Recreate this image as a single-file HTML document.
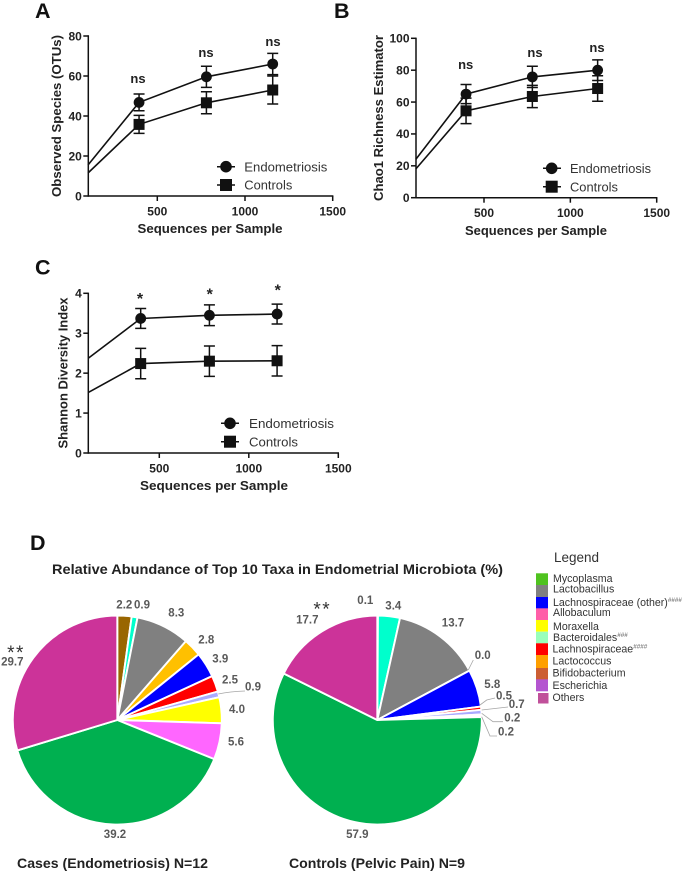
<!DOCTYPE html>
<html lang="en">
<head>
<meta charset="utf-8">
<title>Endometrial microbiota diversity</title>
<style>
html,body{margin:0;padding:0;background:#fff;}
svg{display:block;filter:blur(0.35px);}
text{font-family:"Liberation Sans",sans-serif;}
.letter{font-size:21.5px;font-weight:bold;fill:#111;}
.axis-title{font-size:13px;font-weight:bold;fill:#222;}
.tick{font-size:12px;font-weight:bold;fill:#222;}
.sig{font-size:13px;font-weight:bold;fill:#222;}
.star{font-size:16px;font-weight:bold;fill:#222;}
.leg{font-size:13px;fill:#333;}
.pie-label{font-size:11.5px;font-weight:bold;fill:#595959;text-anchor:middle;dominant-baseline:central;}
.pie-title{font-size:14px;font-weight:bold;fill:#222;}
.tax{font-size:10.6px;fill:#333;dominant-baseline:central;}
.sup{font-size:6.3px;fill:#555;}
.leader{fill:none;stroke:#a6a6a6;stroke-width:0.8;}
</style>
</head>
<body>
<svg id="figure" xmlns="http://www.w3.org/2000/svg" width="685" height="872" viewBox="0 0 685 872">
  <rect x="0" y="0" width="685" height="872" fill="#fff"/>

  <text class="letter" x="35" y="18">A</text>
  <text class="letter" x="334" y="18">B</text>
  <text class="letter" x="35" y="274.500">C</text>
  <text class="letter" x="30" y="550">D</text>

  <g id="chart-a"></g>
  <g id="chart-b"></g>
  <g id="chart-c"></g>

  <text class="axis-title" x="210" y="233" text-anchor="middle" textLength="145" lengthAdjust="spacingAndGlyphs">Sequences per Sample</text>
  <text class="axis-title" x="536" y="235" text-anchor="middle" textLength="142" lengthAdjust="spacingAndGlyphs">Sequences per Sample</text>
  <text class="axis-title" x="214" y="490" text-anchor="middle" textLength="148" lengthAdjust="spacingAndGlyphs">Sequences per Sample</text>
  <text class="axis-title" transform="translate(61 116) rotate(-90)" text-anchor="middle" textLength="162" lengthAdjust="spacingAndGlyphs">Observed Species (OTUs)</text>
  <text class="axis-title" transform="translate(383 118) rotate(-90)" text-anchor="middle" textLength="166" lengthAdjust="spacingAndGlyphs">Chao1 Richness Estimator</text>
  <text class="axis-title" transform="translate(67.500 373) rotate(-90)" text-anchor="middle" textLength="151" lengthAdjust="spacingAndGlyphs">Shannon Diversity Index</text>

  <text class="sig" x="138" y="83" text-anchor="middle">ns</text>
  <text class="sig" x="206" y="57" text-anchor="middle">ns</text>
  <text class="sig" x="273" y="46" text-anchor="middle">ns</text>
  <text class="sig" x="465.700" y="69" text-anchor="middle">ns</text>
  <text class="sig" x="535" y="57" text-anchor="middle">ns</text>
  <text class="sig" x="597" y="52" text-anchor="middle">ns</text>
  <text class="star" x="140" y="304" text-anchor="middle">*</text>
  <text class="star" x="209.700" y="299.700" text-anchor="middle">*</text>
  <text class="star" x="277.700" y="295.700" text-anchor="middle">*</text>

  <g stroke="#111" fill="#111">
    <line x1="217" x2="235" y1="166.700" y2="166.700" stroke-width="1.500"/><circle cx="226" cy="166.700" r="5.300"/>
    <line x1="217" x2="235" y1="185" y2="185" stroke-width="1.500"/><rect x="220.500" y="179.500" width="11" height="11"/>
    <text class="leg" stroke="none" fill="#333" x="244.300" y="171.500" textLength="83" lengthAdjust="spacingAndGlyphs">Endometriosis</text>
    <text class="leg" stroke="none" fill="#333" x="244.300" y="189.700" textLength="48" lengthAdjust="spacingAndGlyphs">Controls</text>
  </g>
  <g stroke="#111" fill="#111">
    <line x1="543" x2="561" y1="168.300" y2="168.300" stroke-width="1.500"/><circle cx="551.700" cy="168.300" r="5.300"/>
    <line x1="543" x2="561" y1="186.700" y2="186.700" stroke-width="1.500"/><rect x="546.200" y="181.200" width="11" height="11"/>
    <text class="leg" stroke="none" fill="#333" x="570" y="173" textLength="81" lengthAdjust="spacingAndGlyphs">Endometriosis</text>
    <text class="leg" stroke="none" fill="#333" x="570" y="191.300" textLength="48" lengthAdjust="spacingAndGlyphs">Controls</text>
  </g>
  <g stroke="#111" fill="#111">
    <line x1="221" x2="239" y1="423.300" y2="423.300" stroke-width="1.500"/><circle cx="230" cy="423.300" r="5.300"/>
    <line x1="221" x2="239" y1="441.700" y2="441.700" stroke-width="1.500"/><rect x="224.500" y="436.200" width="11" height="11"/>
    <text class="leg" stroke="none" fill="#333" x="249" y="428" textLength="85" lengthAdjust="spacingAndGlyphs">Endometriosis</text>
    <text class="leg" stroke="none" fill="#333" x="249" y="446.300" textLength="49" lengthAdjust="spacingAndGlyphs">Controls</text>
  </g>

  <text x="52" y="574" font-size="14" font-weight="bold" fill="#222" textLength="451" lengthAdjust="spacingAndGlyphs">Relative Abundance of Top 10 Taxa in Endometrial Microbiota (%)</text>

  <g id="pie-cases"></g>
  <g id="pie-controls"></g>

  <g>
    <text class="pie-label" x="124.300" y="605.300">2.2</text>
    <text class="pie-label" x="142" y="605.300">0.9</text>
    <text class="pie-label" x="176.300" y="613.300">8.3</text>
    <text class="pie-label" x="206.300" y="640.300">2.8</text>
    <text class="pie-label" x="220.300" y="659.300">3.9</text>
    <text class="pie-label" x="230" y="680.300">2.5</text>
    <text class="pie-label" x="253" y="687.300">0.9</text>
    <text class="pie-label" x="237" y="710">4.0</text>
    <text class="pie-label" x="236" y="742.300">5.6</text>
    <text class="pie-label" x="115" y="835">39.2</text>
    <text class="pie-label" x="12.300" y="662.300">29.7</text>
    <path class="leader" d="M218.300 694 Q230 691.500 245 691"/>
  </g>
  <text x="16" y="659" text-anchor="middle" font-size="19" fill="#333" letter-spacing="1.500">**</text>

  <g>
    <text class="pie-label" x="365.300" y="601">0.1</text>
    <text class="pie-label" x="393.300" y="606.700">3.4</text>
    <text class="pie-label" x="453" y="623.700">13.7</text>
    <text class="pie-label" x="482.700" y="656">0.0</text>
    <text class="pie-label" x="492.300" y="685">5.8</text>
    <text class="pie-label" x="504" y="696.300">0.5</text>
    <text class="pie-label" x="516.700" y="705">0.7</text>
    <text class="pie-label" x="512.300" y="718.300">0.2</text>
    <text class="pie-label" x="506" y="732.700">0.2</text>
    <text class="pie-label" x="357.300" y="835">57.9</text>
    <text class="pie-label" x="307.300" y="620.700">17.7</text>
    <path class="leader" d="M468.300 670 L473.300 660"/>
    <path class="leader" d="M480 705 L486.700 700 L495 698"/>
    <path class="leader" d="M481.700 710 L508 707"/>
    <path class="leader" d="M481.700 713.300 L493 721.700 L503 721.700"/>
    <path class="leader" d="M481.700 716.700 L490 736 L497 736"/>
  </g>
  <text x="322.300" y="615.700" text-anchor="middle" font-size="19" fill="#333" letter-spacing="1.500">**</text>

  <text class="pie-title" x="17" y="868" textLength="191" lengthAdjust="spacingAndGlyphs">Cases (Endometriosis) N=12</text>
  <text class="pie-title" x="289" y="868" textLength="176" lengthAdjust="spacingAndGlyphs">Controls (Pelvic Pain) N=9</text>

  <g>
    <text x="554" y="562" font-size="13.500" fill="#333">Legend</text>
    <rect x="536" y="573.300" width="12" height="12" fill="#4fc31f"/>
    <rect x="536" y="585" width="12" height="12" fill="#808080"/>
    <rect x="536" y="597" width="12" height="11.500" fill="#0000ff"/>
    <rect x="536" y="608.300" width="12" height="11.700" fill="#ff5fa8"/>
    <rect x="536" y="620" width="12" height="11.700" fill="#ffff00"/>
    <rect x="536" y="631.700" width="12" height="11.700" fill="#99ffbb"/>
    <rect x="536" y="643.300" width="12" height="11.700" fill="#ff0000"/>
    <rect x="536" y="655" width="12" height="13" fill="#ff9f00"/>
    <rect x="536" y="668" width="12" height="11.500" fill="#cc5e33"/>
    <rect x="536" y="679.300" width="12" height="12" fill="#b455d0"/>
    <rect x="538" y="693" width="10.500" height="10.500" fill="#c0509a"/>
    <text class="tax" x="553" y="579">Mycoplasma</text>
    <text class="tax" x="553" y="589.500">Lactobacillus</text>
    <text class="tax" x="553" y="603">Lachnospiraceae (other)<tspan class="sup" dy="-3">####</tspan></text>
    <text class="tax" x="553" y="613">Allobaculum</text>
    <text class="tax" x="553" y="627">Moraxella</text>
    <text class="tax" x="553" y="638">Bacteroidales<tspan class="sup" dy="-3">###</tspan></text>
    <text class="tax" x="552.500" y="649.500">Lachnospiraceae<tspan class="sup" dy="-3">####</tspan></text>
    <text class="tax" x="552.500" y="661.500">Lactococcus</text>
    <text class="tax" x="552.500" y="673.500">Bifidobacterium</text>
    <text class="tax" x="552.500" y="686">Escherichia</text>
    <text class="tax" x="552.500" y="698">Others</text>
  </g>
</svg>

<script>
var depths = [105, 396, 780, 1158];
var xTicks = [500, 1000, 1500];

var speciesEndo = [15.5, 46.8, 59.6, 66];
var speciesEndoErr = [0, 4.2, 5.3, 5.3];
var speciesCtrl = [11.5, 35.8, 46.6, 53];
var speciesCtrlErr = [0, 4.5, 5.5, 7];
var speciesTicks = [0, 20, 40, 60, 80];

var chaoEndo = [24, 65, 75.8, 80];
var chaoEndoErr = [0, 6, 6.7, 6.5];
var chaoCtrl = [18, 54.5, 63.5, 68.5];
var chaoCtrlErr = [0, 8, 7, 8];
var chaoTicks = [0, 20, 40, 60, 80, 100];

var shannonEndo = [2.38, 3.37, 3.45, 3.48];
var shannonEndoErr = [0, 0.25, 0.26, 0.25];
var shannonCtrl = [1.52, 2.24, 2.3, 2.31];
var shannonCtrlErr = [0, 0.38, 0.38, 0.38];
var shannonTicks = [0, 1, 2, 3, 4];

var taxa = ['bifidobacterium', 'bacteroidales', 'lactobacillus', 'lactococcus', 'lachnospiraceae-other', 'lachnospiraceae', 'escherichia', 'moraxella', 'allobaculum', 'mycoplasma', 'others'];
var casesShare = [2.2, 0.9, 8.3, 2.8, 3.9, 2.5, 0.9, 4.0, 5.6, 39.2, 29.7];
var controlsShare = [0.1, 3.4, 13.7, 0.0, 5.8, 0.5, 0.7, 0.2, 0.2, 57.9, 17.7];
var sliceColors = ['#996600', '#00ffcc', '#808080', '#ffc000', '#0000ff', '#ff0000', '#aaaaff', '#ffff00', '#ff66ff', '#00b050', '#cc3399'];

var SVGNS = 'http://www.w3.org/2000/svg';
function make(parent, tag, attrs) {
  var el = document.createElementNS(SVGNS, tag);
  for (var k in attrs) { el.setAttribute(k, attrs[k]); }
  parent.appendChild(el);
  return el;
}

function drawSeries(g, xs, yScale, values, errors, marker, prefix) {
  var pts = values.map(function (v, i) { return xs(depths[i]).toFixed(1) + ',' + yScale(v).toFixed(1); });
  var line = make(g, 'polyline', {points: pts.join(' '), fill: 'none', stroke: '#111', 'stroke-width': 1.6});
  
  
  values.forEach(function (v, i) {
    if (i === 0) { return; }
    var cx = xs(depths[i]);
    var cy = yScale(v);
    var hi = yScale(v + errors[i]);
    var lo = yScale(v - errors[i]);
    var eb = make(g, 'path', {
      d: 'M' + cx + ' ' + lo + 'V' + hi + 'M' + (cx - 5.5) + ' ' + hi + 'H' + (cx + 5.5) + 'M' + (cx - 5.5) + ' ' + lo + 'H' + (cx + 5.5),
      fill: 'none', stroke: '#111', 'stroke-width': 1.5
    });
    
    
    var m;
    if (marker === 'circle') {
      m = make(g, 'circle', {cx: cx, cy: cy, r: 5.4, fill: '#111'});
    } else {
      m = make(g, 'rect', {x: cx - 5.5, y: cy - 5.5, width: 11, height: 11, fill: '#111'});
    }
    
    
  });
}

function drawChart(id, frame, yTicks, endo, endoErr, ctrl, ctrlErr) {
  var g = document.getElementById(id);
  var yMax = yTicks[yTicks.length - 1];
  var xs = function (v) { return frame.x500 + (v - 500) * (frame.x1500 - frame.x500) / 1000; };
  var ys = function (v) { return frame.y0 + (frame.yTop - frame.y0) * v / yMax; };
  var yAxis = make(g, 'line', {x1: frame.left, x2: frame.left, y1: frame.yTop - 0.7, y2: frame.y0 + 0.7, stroke: '#111', 'stroke-width': 1.5});
  
  
  var xAxis = make(g, 'line', {x1: frame.left, x2: frame.x1500 + 0.7, y1: frame.y0, y2: frame.y0, stroke: '#111', 'stroke-width': 1.5});
  
  
  yTicks.forEach(function (t) {
    var tk = make(g, 'line', {x1: frame.left - 5, x2: frame.left, y1: ys(t), y2: ys(t), stroke: '#111', 'stroke-width': 1.5});
    
    
    var lb = make(g, 'text', {'class': 'tick', x: frame.left - 6.5, y: ys(t) + 4.3, 'text-anchor': 'end'});
    
    
    lb.textContent = String(t);
  });
  xTicks.forEach(function (t) {
    var tk = make(g, 'line', {x1: xs(t), x2: xs(t), y1: frame.y0, y2: frame.y0 + 5, stroke: '#111', 'stroke-width': 1.5});
    
    
    var lb = make(g, 'text', {'class': 'tick', x: xs(t), y: frame.y0 + 19.500, 'text-anchor': 'middle'});
    
    
    lb.textContent = String(t);
  });
  drawSeries(g, xs, ys, ctrl, ctrlErr, 'square', 'controls');
  drawSeries(g, xs, ys, endo, endoErr, 'circle', 'endometriosis');
}

function drawPie(id, cx, cy, r, values) {
  var g = document.getElementById(id);
  var total = values.reduce(function (a, b) { return a + b; }, 0);
  var acc = 0;
  values.forEach(function (v, i) {
    var a0 = acc / total * 2 * Math.PI;
    acc += v;
    var a1 = acc / total * 2 * Math.PI;
    var x0 = cx + r * Math.sin(a0), y0 = cy - r * Math.cos(a0);
    var x1 = cx + r * Math.sin(a1), y1 = cy - r * Math.cos(a1);
    var large = (a1 - a0) > Math.PI ? 1 : 0;
    var s = make(g, 'path', {
      d: 'M' + cx + ' ' + cy + 'L' + x0.toFixed(2) + ' ' + y0.toFixed(2) + 'A' + r + ' ' + r + ' 0 ' + large + ' 1 ' + x1.toFixed(2) + ' ' + y1.toFixed(2) + 'Z',
      fill: sliceColors[i], stroke: '#fff', 'stroke-width': 1.9, 'stroke-linejoin': 'round'
    });
    
    
  });
}

drawChart('chart-a', {left: 88.3, x500: 157.3, x1500: 332.7, y0: 196, yTop: 36}, speciesTicks, speciesEndo, speciesEndoErr, speciesCtrl, speciesCtrlErr);
drawChart('chart-b', {left: 416, x500: 484, x1500: 656.7, y0: 197.7, yTop: 38.3}, chaoTicks, chaoEndo, chaoEndoErr, chaoCtrl, chaoCtrlErr);
drawChart('chart-c', {left: 88.3, x500: 159.3, x1500: 338.3, y0: 453, yTop: 293.3}, shannonTicks, shannonEndo, shannonEndoErr, shannonCtrl, shannonCtrlErr);
drawPie('pie-cases', 117.3, 720, 104.5, casesShare);
drawPie('pie-controls', 377.3, 720, 104.5, controlsShare);
</script>
</body>
</html>
